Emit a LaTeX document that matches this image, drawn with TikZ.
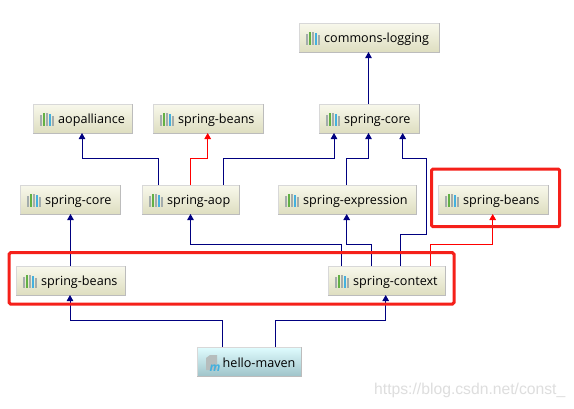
\documentclass[tikz,border=0pt]{standalone}
\usepackage{fontspec}
\setmainfont{Open Sans}
\newfontfamily\wmfont{Liberation Sans}
\usetikzlibrary{arrows.meta}
\definecolor{dep}{HTML}{000080}
\definecolor{conflict}{HTML}{FF0000}
\definecolor{ringred}{HTML}{F5201A}
\definecolor{edgegray}{HTML}{D8D8D8}
\definecolor{rimgray}{HTML}{BCBCBC}
\definecolor{JT}{HTML}{F8F8EC}
\definecolor{JB}{HTML}{DEDEC0}
\definecolor{MT}{HTML}{E0FDFF}
\definecolor{MB}{HTML}{A0C4CA}
\definecolor{G1}{HTML}{A4ACAC}
\definecolor{G2}{HTML}{62B044}
\definecolor{G3}{HTML}{44B0DE}
\tikzset{
  x=1pt,y=-1pt,
  lab/.style={anchor=west,inner sep=0,font=\fontsize{12.6}{14}\selectfont,text=black},
  link/.style={draw=dep,line width=1pt,-{Triangle[length=6pt,width=6.5pt,fill=dep]}},
  clash/.style={draw=conflict,line width=1pt,-{Triangle[length=6pt,width=6.5pt,fill=conflict]}},
  ring/.style={draw=ringred,line width=3pt,rounded corners=1.5pt},
  rim/.style={draw=rimgray,line width=1pt},
  boxbase/.style={draw=edgegray,line width=1pt,inner sep=0pt,outer sep=0pt},
}
% name, left, top, right, bottom, text
\newcommand{\jar}[6]{%
  \node[boxbase,top color=JT,bottom color=JB,minimum width=#4pt-#2pt,minimum height=#5pt-#3pt] (#1) at ({(#2+#4)/2},{(#3+#5)/2}) {};
  \draw[rim] (#1.north east) -- (#1.south east) -- (#1.south west);
  \fill[G1] (#2+7,#3+10.5) rectangle +(2.2,11);
  \fill[G2] (#2+10,#3+9) rectangle +(2.2,12.5);
  \fill[G1] (#2+13,#3+8.5) rectangle +(2.2,13);
  \fill[G3] (#2+16,#3+9.5) rectangle +(2.2,12);
  \fill[G1] (#2+19,#3+12) rectangle +(2.2,9.5);
  \node[lab] (#1-t) at (#2+25,#3+16.3) {#6};
}
\begin{document}
\begin{tikzpicture}
\useasboundingbox (0,0) rectangle (574,408);
\fill[white] (0,0) rectangle (574,408);
\jar{logging}{299}{23}{439}{52}{commons-logging}
\jar{coreB}{319}{104}{419}{133}{spring-core}
\jar{aopa}{33}{104}{132}{133}{aopalliance}
\jar{beansT}{153}{104}{263}{133}{spring-beans}
\jar{coreA}{20}{185}{120}{214}{spring-core}
\jar{aop}{142}{185}{239}{214}{spring-aop}
\jar{expr}{278}{185}{416}{214}{spring-expression}
\jar{beansR}{438}{185}{548}{214}{spring-beans}
\jar{beansL}{16}{266}{125}{295}{spring-beans}
\jar{context}{328}{266}{445}{295}{spring-context}
% root node
\node[boxbase,top color=MT,bottom color=MB,minimum width=104pt,minimum height=29pt] (root) at (249,361.5) {};
\draw[rim] (root.north east) -- (root.south east) -- (root.south west);
\fill[G1!80!white] (206,358) -- (210,355) -- (217,355) -- (217,370) -- (206,370) -- cycle;
\node[inner sep=0,anchor=south west,text=G3,font=\fontsize{12}{12}\selectfont\itshape\bfseries] (rootm) at (209.5,372) {m};
\node[lab] (root-t) at (222.5,363) {hello-maven};
% connectors
\draw[link] ([xshift=49.5pt]coreB.north west) -- ([xshift=69.5pt]logging.south west);
\draw[link] ([xshift=16pt]aop.north west) -- ++(0,-27) -| ([xshift=49pt]aopa.south west);
\draw[clash] ([xshift=48.5pt]aop.north west) -- ++(0,-27) -| ([xshift=54.7pt]beansT.south west);
\draw[link] ([xshift=81pt]aop.north west) -- ++(0,-27) -| ([xshift=15pt]coreB.south west);
\draw[link] ([xshift=68pt]expr.north west) -- ++(0,-27) -| ([xshift=49.5pt]coreB.south west);
\draw[link] ([xshift=72pt]context.north west) -- ++(0,-32) -- ++(26,0) -- ++(0,-76) -| ([xshift=83.7pt]coreB.south west);
\draw[link] ([xshift=43pt]context.north west) -- ++(0,-22) -| ([xshift=68.7pt]expr.south west);
\draw[link] ([xshift=13.7pt]context.north west) -- ++(0,-22) -| ([xshift=48.5pt]aop.south west);
\draw[clash] ([xshift=102pt]context.north west) -- ++(0,-22) -| ([xshift=54.7pt]beansR.south west);
\draw[link] ([xshift=54.5pt]beansL.north west) -- ([xshift=50.5pt]coreA.south west);
\draw[link] ([xshift=25.5pt]root.north west) -- ++(0,-27) -| ([xshift=54pt]beansL.south west);
\draw[link] ([xshift=78pt]root.north west) -- ++(0,-27) -| ([xshift=57.7pt]context.south west);
% highlight rings
\draw[ring] (9,252.7) rectangle (454,304);
\draw[ring] (431.5,169) rectangle (559.7,226.7);
% watermark
\node[anchor=west,inner sep=0,text=black!13,font=\wmfont\fontsize{15.7}{17}\selectfont] (wm) at (374,390) {https://blog.csdn.net/const\_};
\end{tikzpicture}
\end{document}
